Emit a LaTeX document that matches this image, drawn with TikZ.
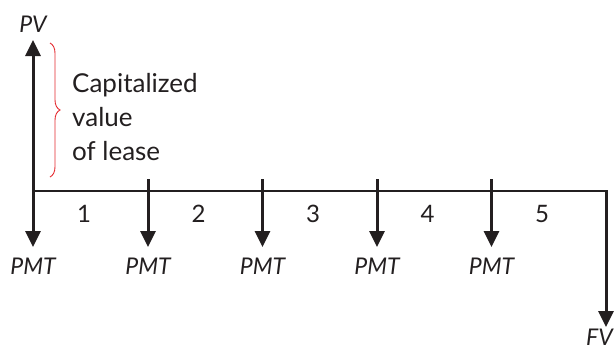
\documentclass[tikz,border=0pt]{standalone}
\usepackage{fontspec}
\setmainfont{Lato}
\usetikzlibrary{arrows.meta,decorations.pathreplacing}
\definecolor{ink}{RGB}{35,31,32}
\definecolor{bracered}{RGB}{228,40,45}
\begin{document}
\begin{tikzpicture}[x=1pt,y=-1pt,
  arr/.style={draw=ink,line width=3pt,-{Triangle[width=15pt,length=16pt]}},
  axis/.style={draw=ink,line width=1.8pt},
  lab/.style={text=ink,font=\fontsize{23}{26}\selectfont\itshape,inner sep=0pt},
  num/.style={text=ink,font=\fontsize{24}{26}\selectfont,inner sep=0pt,anchor=base},
  note/.style={text=ink,font=\fontsize{26}{34}\selectfont,inner sep=0pt,align=left,anchor=base west}]
\useasboundingbox (0,0) rectangle (616,351);
% timeline points
\coordinate (t0) at (33,191);
\coordinate (t5) at (606,191);
\foreach \i/\x in {1/148,2/262.5,3/377,4/491.5}{
  \coordinate (u\i) at (\x,179);
  \coordinate (b\i) at (\x,247);
}
\coordinate (b0) at (33,247);
\coordinate (pvtip) at (33,40);
\coordinate (fvtip) at (606,327);
% axis
\draw[axis] (t0) -- (t5);
% arrows
\draw[arr] (33,192) -- (pvtip);
\draw[arr] (33,190) -- (b0);
\foreach \i in {1,2,3,4}{\draw[arr] (u\i) -- (b\i);}
\draw[arr] (606,190.1) -- (fvtip);
% labels
\node[lab,anchor=base] (pv) at (33,32) {PV};
\node[lab,anchor=base] (pmt0) at (33,274) {PMT};
\foreach \i/\x in {1/148,2/262.5,3/377,4/491.5}{\node[lab,anchor=base] (pmt\i) at (\x,274) {PMT};}
\node[lab,anchor=base east] (fv) at (613,345) {FV};
\foreach \i/\x in {1/84,2/198.5,3/313,4/427.5,5/542}{\node[num] (n\i) at (\x,222) {\i};}
% brace and note
\coordinate (brtop) at (50,43);
\coordinate (brbot) at (50,177);
\draw[bracered,line width=0.9pt,decorate,decoration={brace,amplitude=10pt}] (brtop) -- (brbot);
\node[note] (cap) at (72,160) {Capitalized\\value\\of lease};
\end{tikzpicture}
\end{document}
